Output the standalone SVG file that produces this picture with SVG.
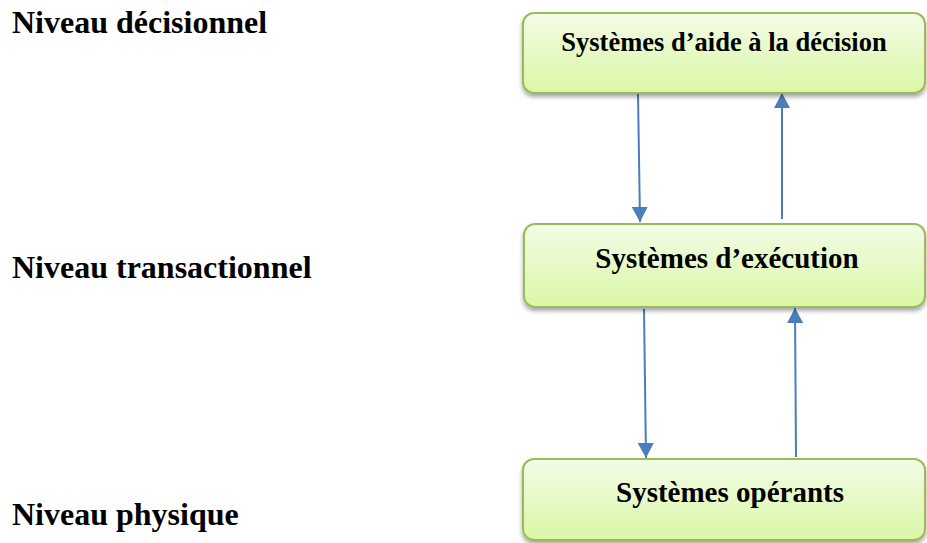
<svg xmlns="http://www.w3.org/2000/svg" width="927" height="543" viewBox="0 0 927 543">
  <defs>
    <linearGradient id="boxFill" x1="0" y1="0" x2="0" y2="1">
      <stop offset="0" stop-color="#f3fce6"/>
      <stop offset="1" stop-color="#daf7a6"/>
    </linearGradient>
    <filter id="shadow" x="-5%" y="-10%" width="110%" height="130%">
      <feDropShadow dx="0" dy="3" stdDeviation="2.2" flood-color="#000" flood-opacity="0.35"/>
    </filter>
    <marker id="arrow" viewBox="0 0 16 16" refX="15" refY="8" markerWidth="16" markerHeight="16" markerUnits="userSpaceOnUse" orient="auto">
      <path d="M0,0 L15,8 L0,16 Z" fill="#4a7ebb"/>
    </marker>
  </defs>
  <style>
    .box { fill: url(#boxFill); stroke: #9bbb59; stroke-width: 2; filter: url(#shadow); }
    .label { font-family: "Liberation Serif", "Times New Roman", serif; font-weight: bold; fill: #000; }
    .boxtext { font-family: "Liberation Serif", "Times New Roman", serif; font-weight: bold; fill: #000; text-anchor: middle; }
    .conn { stroke: #4a7ebb; stroke-width: 2; fill: none; marker-end: url(#arrow); }
  </style>

  <!-- level labels -->
  <g id="level-labels">
    <text class="label" x="12" y="33" font-size="32">Niveau décisionnel</text>
    <text class="label" x="12" y="278" font-size="32">Niveau transactionnel</text>
    <text class="label" x="12" y="525" font-size="32">Niveau physique</text>
  </g>

  <!-- connectors -->
  <g id="connectors">
    <line class="conn" x1="638" y1="94" x2="640" y2="222"/>
    <line class="conn" x1="782" y1="219" x2="782" y2="93"/>
    <line class="conn" x1="644" y1="309" x2="646" y2="458"/>
    <line class="conn" x1="796" y1="457" x2="795" y2="308"/>
  </g>

  <g id="node-aide-decision">
    <rect class="box" x="523" y="13" width="402" height="80" rx="11" ry="11"/>
    <text class="boxtext" x="724" y="51" font-size="26.5">Systèmes d’aide à la décision</text>
  </g>

  <g id="node-execution">
    <rect class="box" x="524" y="224" width="401" height="83" rx="11" ry="11"/>
    <text class="boxtext" x="727" y="268" font-size="29">Systèmes d’exécution</text>
  </g>

  <g id="node-operants">
    <rect class="box" x="523" y="459" width="402" height="81" rx="11" ry="11"/>
    <text class="boxtext" x="730" y="502" font-size="29">Systèmes opérants</text>
  </g>
</svg>
